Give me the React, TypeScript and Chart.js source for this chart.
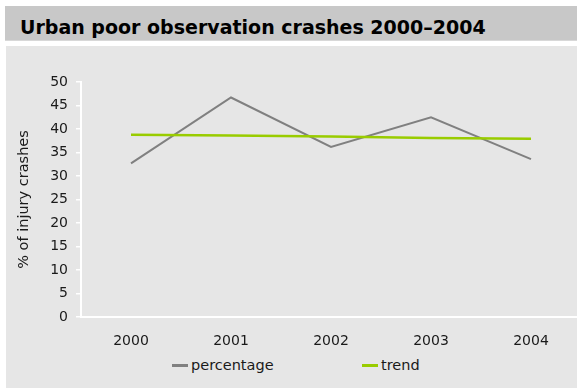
import React, { useEffect, useRef } from "react";
import { Chart, registerables } from "chart.js";

Chart.register(...registerables);

// Data
const years = ["2000", "2001", "2002", "2003", "2004"];
const percentage = [32.7, 46.7, 36.2, 42.5, 33.6];
const trend = [38.8, 38.6, 38.4, 38.1, 37.9];
const seriesNames = ["percentage", "trend"];
const seriesColors = ["#808080", "#99cc00"];
const yMin = 0;
const yMax = 50;
const yStep = 5;

const chartTitle = "Urban poor observation crashes 2000\u20132004";
const yAxisTitle = "% of injury crashes";

const FONT = "'DejaVu Sans', Verdana, sans-serif";
const TEXT = "#1a1a1a";

export default function App() {
  const canvasRef = useRef<HTMLCanvasElement | null>(null);

  useEffect(() => {
    const canvas = canvasRef.current;
    if (!canvas) return;
    const chart = new Chart(canvas, {
      type: "line",
      data: {
        labels: years,
        datasets: [
          {
            label: seriesNames[0],
            data: percentage,
            borderColor: seriesColors[0],
            backgroundColor: seriesColors[0],
            borderWidth: 2,
            pointRadius: 0,
            tension: 0,
            order: 1,
          },
          {
            label: seriesNames[1],
            data: trend,
            borderColor: seriesColors[1],
            backgroundColor: seriesColors[1],
            borderWidth: 2.5,
            pointRadius: 0,
            tension: 0,
            order: 0,
          },
        ],
      },
      options: {
        responsive: false,
        animation: false,
        layout: { padding: { top: 36, right: 5, left: 0, bottom: 0 } },
        plugins: {
          legend: { display: false },
          tooltip: { enabled: false },
        },
        scales: {
          x: {
            offset: true,
            grid: { display: false },
            border: { display: true, color: "#ffffff", width: 2 },
            ticks: {
              color: TEXT,
              font: { family: FONT, size: 14 },
              padding: 8,
              maxRotation: 0,
            },
            afterFit: (s: any) => {
              s.height = 39;
            },
          },
          y: {
            min: yMin,
            max: yMax,
            ticks: {
              stepSize: yStep,
              color: TEXT,
              font: { family: FONT, size: 14 },
              padding: 8,
            },
            grid: {
              drawOnChartArea: false,
              drawTicks: true,
              tickLength: 5,
              color: "#ffffff",
              lineWidth: 1.5,
            },
            border: { display: true, color: "#ffffff", width: 2 },
            title: {
              display: true,
              text: yAxisTitle,
              color: TEXT,
              font: { family: FONT, size: 14.5 },
              padding: { top: 10, bottom: 0 },
            },
            afterFit: (s: any) => {
              s.width = 75;
            },
          },
        },
      },
    });
    return () => chart.destroy();
  }, []);

  const legendItems = [
    { name: seriesNames[0], color: seriesColors[0], left: 166 },
    { name: seriesNames[1], color: seriesColors[1], left: 356 },
  ];

  return (
    <div
      style={{
        position: "absolute",
        left: 0,
        top: 0,
        width: 577,
        height: 390,
        background: "#ffffff",
        overflow: "hidden",
        fontFamily: FONT,
      }}
    >
      <div
        style={{
          position: "absolute",
          left: 5,
          top: 6,
          width: 572,
          height: 35,
          background: "#c8c8c8",
          borderBottom: "1px solid #d8d8d8",
          boxSizing: "border-box",
        }}
      >
        <div
          style={{
            position: "absolute",
            left: 15,
            top: 3,
            lineHeight: "36px",
            fontSize: 19,
            fontWeight: "bold",
            color: "#000000",
            whiteSpace: "nowrap",
          }}
        >
          {chartTitle}
        </div>
      </div>
      <div
        style={{
          position: "absolute",
          left: 6,
          top: 46,
          width: 571,
          height: 342,
          background: "#e6e6e6",
          overflow: "hidden",
        }}
      >
        <canvas
          ref={canvasRef}
          width={580}
          height={310}
          style={{ position: "absolute", left: 0, top: 0, display: "block" }}
        />
        {legendItems.map((it) => (
          <div
            key={it.name}
            style={{
              position: "absolute",
              left: it.left,
              top: 310,
              height: 18,
              display: "flex",
              alignItems: "center",
              fontSize: 14.5,
              color: TEXT,
              whiteSpace: "nowrap",
            }}
          >
            <span
              style={{
                display: "inline-block",
                width: 16,
                height: 3,
                background: it.color,
                marginRight: 3,
              }}
            />
            <span>{it.name}</span>
          </div>
        ))}
      </div>
    </div>
  );
}
